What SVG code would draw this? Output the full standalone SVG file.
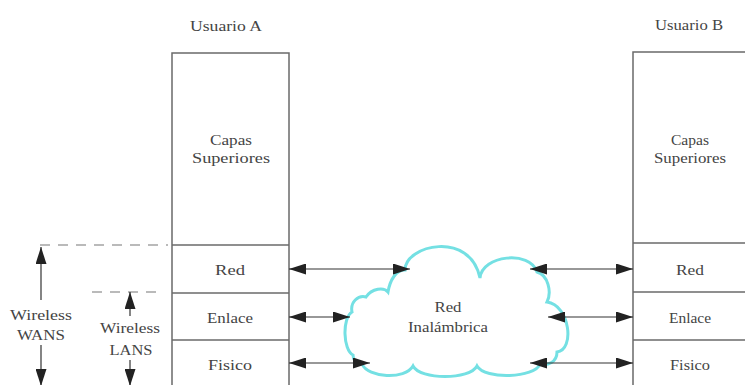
<svg xmlns="http://www.w3.org/2000/svg" width="745" height="385" viewBox="0 0 745 385">
<defs>
<style>
text{font-family:"Liberation Serif","Times New Roman",serif;font-size:14px;fill:#444;text-anchor:middle}
.box{fill:#fff;stroke:#6a6a6a;stroke-width:1.5}
.div{stroke:#6a6a6a;stroke-width:1.5}
.arr{stroke:#333;stroke-width:1.2;fill:none;marker-start:url(#ah);marker-end:url(#ah)}
.one{stroke:#333;stroke-width:1.2;fill:none;marker-end:url(#ah)}
.dash{stroke:#777;stroke-width:1.2;stroke-dasharray:10 8;fill:none}
.cloud{fill:#fff;stroke:#74e0e3;stroke-width:3}
</style>
<marker id="ah" markerUnits="userSpaceOnUse" markerWidth="17" markerHeight="11" refX="17" refY="5.5" orient="auto-start-reverse" viewBox="0 0 17 11">
<path d="M0,0 L17,5.5 L0,11 z" fill="#222"/>
</marker>
</defs>

<g id="usuarioA">
<text x="226" y="31" textLength="72" lengthAdjust="spacingAndGlyphs">Usuario A</text>
<rect class="box" x="172" y="53" width="117" height="340"/>
<line class="div" x1="172" y1="245" x2="289" y2="245"/>
<line class="div" x1="172" y1="293" x2="289" y2="293"/>
<line class="div" x1="172" y1="340" x2="289" y2="340"/>
<text x="231" y="145" textLength="42" lengthAdjust="spacingAndGlyphs">Capas</text>
<text x="231" y="163" textLength="78" lengthAdjust="spacingAndGlyphs">Superiores</text>
<text x="230" y="275" textLength="30" lengthAdjust="spacingAndGlyphs">Red</text>
<text x="230" y="323" textLength="46" lengthAdjust="spacingAndGlyphs">Enlace</text>
<text x="230" y="370" textLength="44" lengthAdjust="spacingAndGlyphs">Fisico</text>
</g>

<g id="usuarioB">
<text x="689" y="30" textLength="68" lengthAdjust="spacingAndGlyphs">Usuario B</text>
<rect class="box" x="633" y="52" width="120" height="340"/>
<line class="div" x1="633" y1="243" x2="753" y2="243"/>
<line class="div" x1="633" y1="292" x2="753" y2="292"/>
<line class="div" x1="633" y1="340" x2="753" y2="340"/>
<text x="690" y="145" textLength="38" lengthAdjust="spacingAndGlyphs">Capas</text>
<text x="690" y="163" textLength="72" lengthAdjust="spacingAndGlyphs">Superiores</text>
<text x="690" y="275" textLength="28" lengthAdjust="spacingAndGlyphs">Red</text>
<text x="690" y="323" textLength="42" lengthAdjust="spacingAndGlyphs">Enlace</text>
<text x="690" y="370" textLength="40" lengthAdjust="spacingAndGlyphs">Fisico</text>
</g>

<g id="cloud">
<path class="cloud" d="M353,355 C343,350 342,318 352,312 C350,302 358,295 366,297 C372,288 384,287 388,292 C390,280 396,270 405,270 C405,245 470,230 480,278 C482,255 530,250 537,272 C548,275 552,292 547,302 C570,305 575,350 557,352 C557,362 548,366 540,364 C535,378 485,380 477,366 C470,380 420,380 413,366 C405,380 368,378 362,364 C356,364 353,360 353,355 Z"/>
<text x="448" y="312" textLength="27" lengthAdjust="spacingAndGlyphs">Red</text>
<text x="448" y="332" textLength="80" lengthAdjust="spacingAndGlyphs">Inalámbrica</text>
</g>

<g id="wans">
<line class="dash" x1="40" y1="245" x2="168" y2="245"/>
<line class="one" x1="41" y1="300" x2="41" y2="247"/>
<line class="one" x1="41" y1="345" x2="41" y2="386"/>
<text x="41" y="320" textLength="62" lengthAdjust="spacingAndGlyphs">Wireless</text>
<text x="41" y="340" textLength="48" lengthAdjust="spacingAndGlyphs">WANS</text>
</g>

<g id="lans">
<line class="dash" x1="92" y1="292" x2="164" y2="292"/>
<line class="one" x1="130" y1="316" x2="130" y2="292"/>
<line class="one" x1="130" y1="360" x2="130" y2="386"/>
<text x="130" y="333" textLength="60" lengthAdjust="spacingAndGlyphs">Wireless</text>
<text x="131" y="355" textLength="43" lengthAdjust="spacingAndGlyphs">LANS</text>
</g>

<g id="connectors">
<line class="arr" x1="289" y1="269" x2="410" y2="269"/>
<line class="arr" x1="289" y1="317" x2="350" y2="317"/>
<line class="arr" x1="289" y1="363" x2="370" y2="363"/>
<line class="arr" x1="530" y1="269" x2="633" y2="269"/>
<line class="arr" x1="548" y1="317" x2="633" y2="317"/>
<line class="arr" x1="530" y1="363" x2="633" y2="363"/>
</g>
</svg>
